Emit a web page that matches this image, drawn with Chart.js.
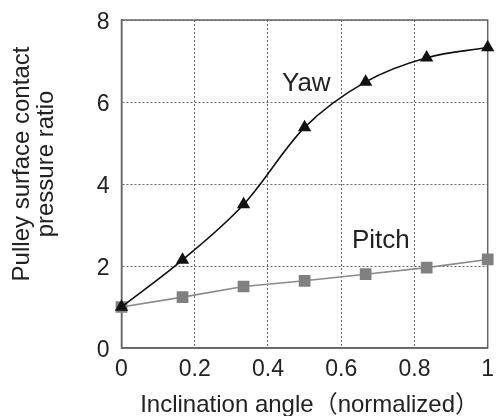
<!DOCTYPE html>
<html>
<head>
<meta charset="utf-8">
<script src="https://cdn.jsdelivr.net/npm/chart.js@4.4.0/dist/chart.umd.min.js"></script>
<style>
  html, body { margin: 0; padding: 0; background: #fff; }
  #wrap { width: 496px; height: 416px; }
</style>
</head>
<body>
<div id="wrap"><canvas id="chart"></canvas></div>
<script>
// normalized inclination angle, 6 steps
const angles = [0, 1/6, 2/6, 3/6, 4/6, 5/6, 1];
const yawRatio = [1.0, 2.15, 3.5, 5.38, 6.49, 7.08, 7.33];
const pitchRatio = [1.0, 1.24, 1.5, 1.64, 1.8, 1.96, 2.16];
const xTicks = [0, 0.2, 0.4, 0.6, 0.8, 1];
const yTicks = [0, 2, 4, 6, 8];

const FONT = "'Liberation Sans', 'Noto Sans CJK JP', sans-serif";
const INK = '#222';

const toPoints = (ys) => angles.map((a, i) => ({ x: a, y: ys[i] }));

// axis titles + curve labels drawn by hand so they sit where the original has them
const annotations = {
  id: 'annotations',
  afterDraw(chart) {
    const ctx = chart.ctx;
    const area = chart.chartArea;
    ctx.save();
    ctx.fillStyle = INK;

    // curve names
    ctx.font = '26px ' + FONT;
    ctx.textAlign = 'left';
    ctx.textBaseline = 'alphabetic';
    ctx.fillText('Yaw', 282, 91);
    ctx.fillText('Pitch', 352, 248);

    // x title
    ctx.font = '24px ' + FONT;
    ctx.textAlign = 'center';
    ctx.fillText('Inclination angle（normalized）', (area.left + area.right) / 2 + 5, 412);

    // y title, two lines, rotated
    ctx.font = '24px ' + FONT;
    ctx.translate(29, 164);
    ctx.rotate(-Math.PI / 2);
    ctx.fillText('Pulley surface contact', 0, 0);
    ctx.fillText('pressure ratio', 0, 24);
    ctx.restore();
  }
};

new Chart(document.getElementById('chart'), {
  type: 'line',
  data: {
    datasets: [
      {
        label: 'Yaw',
        data: toPoints(yawRatio),
        borderColor: '#111',
        backgroundColor: '#111',
        borderWidth: 1.6,
        cubicInterpolationMode: 'monotone',
        pointStyle: 'triangle',
        pointRadius: 7.7,
        pointBorderWidth: 0,
        clip: 12
      },
      {
        label: 'Pitch',
        data: toPoints(pitchRatio),
        borderColor: '#8a8a8a',
        backgroundColor: '#808080',
        borderWidth: 1.6,
        tension: 0,
        pointStyle: 'rect',
        pointRadius: 8.3,
        pointBorderWidth: 0,
        clip: 12
      }
    ]
  },
  options: {
    responsive: true,
    maintainAspectRatio: false,
    animation: false,
    layout: { padding: { top: 20, right: 4, left: 0, bottom: 0 } },
    plugins: {
      legend: { display: false },
      tooltip: { enabled: false }
    },
    scales: {
      x: {
        type: 'linear',
        min: 0,
        max: 1,
        afterBuildTicks: (scale) => { scale.ticks = xTicks.map(v => ({ value: v })); },
        afterFit: (scale) => { scale.height = 68; scale.paddingLeft = 0; scale.paddingRight = 0; },
        ticks: {
          color: INK,
          font: { family: FONT, size: 23 },
          padding: 8,
          maxRotation: 0,
          callback: (v) => String(v)
        },
        grid: {
          color: '#666',
          lineWidth: 1,
          drawTicks: false
        },
        border: { display: true, color: '#666', width: 1.5, dash: [2, 2] }
      },
      y: {
        min: 0,
        max: 8,
        afterBuildTicks: (scale) => { scale.ticks = yTicks.map(v => ({ value: v })); },
        afterFit: (scale) => { scale.width = 121.5; scale.paddingTop = 0; scale.paddingBottom = 0; },
        ticks: {
          color: INK,
          font: { family: FONT, size: 23 },
          padding: 12,
          labelOffset: 3
        },
        grid: {
          color: '#666',
          lineWidth: 1,
          drawTicks: false
        },
        border: { display: true, color: '#666', width: 1.5, dash: [2, 2] }
      }
    }
  },
  plugins: [annotations, {
    // solid frame round the plot, dotted grid inside
    id: 'frame',
    beforeDatasetsDraw(chart) {
      const { ctx, chartArea: a } = chart;
      ctx.save();
      ctx.strokeStyle = '#666';
      ctx.lineWidth = 1.5;
      ctx.setLineDash([]);
      ctx.strokeRect(a.left, a.top, a.right - a.left, a.bottom - a.top);
      ctx.restore();
    }
  }]
});
</script>
</body>
</html>
